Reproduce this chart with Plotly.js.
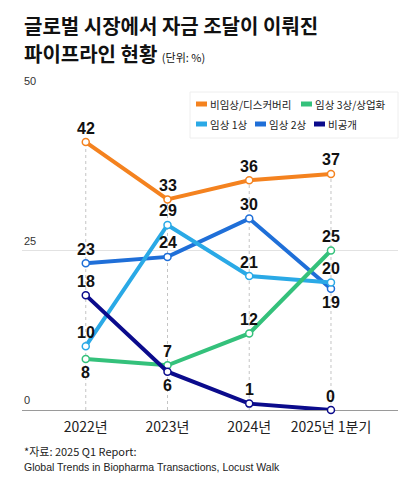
<!DOCTYPE html>
<html>
<head>
<meta charset="utf-8">
<script src="https://cdn.plot.ly/plotly-3.0.1.min.js"></script>
<style>
  html, body { margin: 0; padding: 0; background: #ffffff; }
  #chart { width: 420px; height: 497px; }
</style>
</head>
<body>
<div id="chart"></div>
<script>
// categories and series (%)
const years = ['2022년', '2023년', '2024년', '2025년 1분기'];
const discovery = [42, 33, 36, 37];
const phase3 = [8, 7, 12, 25];
const phase1 = [10, 29, 21, 20];
const phase2 = [23, 24, 30, 19];
const undisclosed = [18, 6, 1, 0];
const yTicks = [0, 25, 50];

// label side per point: 1 = above, -1 = below
const series = [
    { name: '임상 2상', y: phase2, color: '#1f6fd8', side: [1, 1, 1, -1] },
    { name: '임상 1상', y: phase1, color: '#2aa9e6', side: [1, 1, 1, 1] },
    { name: '임상 3상/상업화', y: phase3, color: '#34c17b', side: [-1, 1, 1, 1] },
    { name: '비공개', y: undisclosed, color: '#0b0b8c', side: [1, -1, 1, 1] },
    { name: '비임상/디스커버리', y: discovery, color: '#f4821f', side: [1, 1, 1, 1] }
];
const legendOrder = ['비임상/디스커버리', '임상 3상/상업화', '임상 1상', '임상 2상', '비공개'];

const W = 420, H = 497;
const M = { l: 22, r: 22, t: 91, b: 87 };
const px = x => (x - M.l) / (W - M.l - M.r);          // pixel -> paper x
const py = y => (H - M.b - y) / (H - M.t - M.b);       // pixel -> paper y

const KR = "'Noto Sans CJK KR', 'Noto Sans', sans-serif";
const NUM = "'Liberation Sans', Arial, sans-serif";

const traces = series.map(s => ({
    type: 'scatter',
    mode: 'lines+markers',
    x: years,
    y: s.y,
    name: s.name,
    line: { color: s.color, width: 4 },
    marker: { size: 7, color: '#ffffff', line: { color: s.color, width: 1.5 } },
    hoverinfo: 'skip',
    cliponaxis: false
}));

const annotations = [];
const shapes = [];

// value labels
series.forEach(s => {
    s.y.forEach((v, i) => {
        annotations.push({
            x: years[i], y: v, xref: 'x', yref: 'y',
            text: String(v), showarrow: false,
            yanchor: 'middle', yshift: s.side[i] * 14,
            font: { family: NUM, size: 16, color: '#111111', weight: 'bold' }
        });
    });
});

// y tick labels sitting on the grid lines
yTicks.forEach(t => {
    annotations.push({
        x: 0, y: t, xref: 'paper', yref: 'y', text: String(t),
        showarrow: false, xanchor: 'left', yanchor: 'bottom', yshift: 2,
        font: { family: NUM, size: 11, color: '#333333' }
    });
});

// dotted guides from 0 up to the highest value in each year
years.forEach((yr, i) => {
    const top = Math.max(...series.map(s => s.y[i]));
    shapes.push({
        type: 'line', xref: 'x', yref: 'y', x0: yr, x1: yr, y0: 0, y1: top,
        line: { color: '#c4c4c4', width: 1, dash: 'dot' }, layer: 'below'
    });
});

// custom legend box
shapes.push({
    type: 'rect', xref: 'paper', yref: 'paper',
    x0: px(190), x1: px(398), y0: py(138), y1: py(92),
    fillcolor: '#ffffff', line: { color: '#eeeeee', width: 1 }, layer: 'below'
});
const legendPos = [[196, 104], [301, 104], [196, 124], [255, 124], [314, 124]];
legendOrder.forEach((name, k) => {
    const s = series.find(d => d.name === name);
    const [lx, ly] = legendPos[k];
    shapes.push({
        type: 'rect', xref: 'paper', yref: 'paper',
        x0: px(lx), x1: px(lx + 11), y0: py(ly + 2.5), y1: py(ly - 2.5),
        fillcolor: s.color, line: { width: 0 }
    });
    annotations.push({
        x: px(lx + 12), y: py(ly), xref: 'paper', yref: 'paper',
        text: name, showarrow: false, xanchor: 'left', yanchor: 'middle',
        font: { family: KR, size: 10.5, color: '#222222' }
    });
});

// title and source
annotations.push({
    x: 0, y: py(25), xref: 'paper', yref: 'paper', xanchor: 'left', yanchor: 'middle',
    text: '<b>글로벌 시장에서 자금 조달이 이뤄진</b>', showarrow: false,
    font: { family: KR, size: 20, color: '#111111' }
});
annotations.push({
    x: 0, y: py(54), xref: 'paper', yref: 'paper', xanchor: 'left', yanchor: 'middle',
    text: '<b>파이프라인 현황</b> <span style="font-size:11px">(단위: %)</span>', showarrow: false,
    font: { family: KR, size: 20, color: '#111111' }
});
annotations.push({
    x: 0, y: py(451), xref: 'paper', yref: 'paper', xanchor: 'left', yanchor: 'middle',
    text: '*자료: 2025 Q1 Report:', showarrow: false,
    font: { family: KR, size: 11, color: '#222222' }
});
annotations.push({
    x: 0, y: py(467), xref: 'paper', yref: 'paper', xanchor: 'left', yanchor: 'middle',
    text: 'Global Trends in Biopharma Transactions, Locust Walk', showarrow: false,
    font: { family: NUM, size: 10.5, color: '#222222' }
});

const layout = {
    width: W, height: H,
    margin: M,
    paper_bgcolor: '#ffffff',
    plot_bgcolor: '#ffffff',
    showlegend: false,
    xaxis: {
        type: 'category', range: [-0.78, 3.82],
        showgrid: false, zeroline: false, showline: false,
        ticks: '', ticklabelstandoff: 7,
        tickfont: { family: KR, size: 14, color: '#222222' },
        fixedrange: true
    },
    yaxis: {
        range: [0, 50], tickvals: yTicks, showticklabels: false,
        showgrid: true, gridcolor: '#e2e2e2', gridwidth: 1,
        zeroline: true, zerolinecolor: '#9a9a9a', zerolinewidth: 1,
        showline: false, fixedrange: true
    },
    shapes: shapes,
    annotations: annotations
};

Plotly.newPlot('chart', traces, layout, { displayModeBar: false, staticPlot: true });
</script>
</body>
</html>
